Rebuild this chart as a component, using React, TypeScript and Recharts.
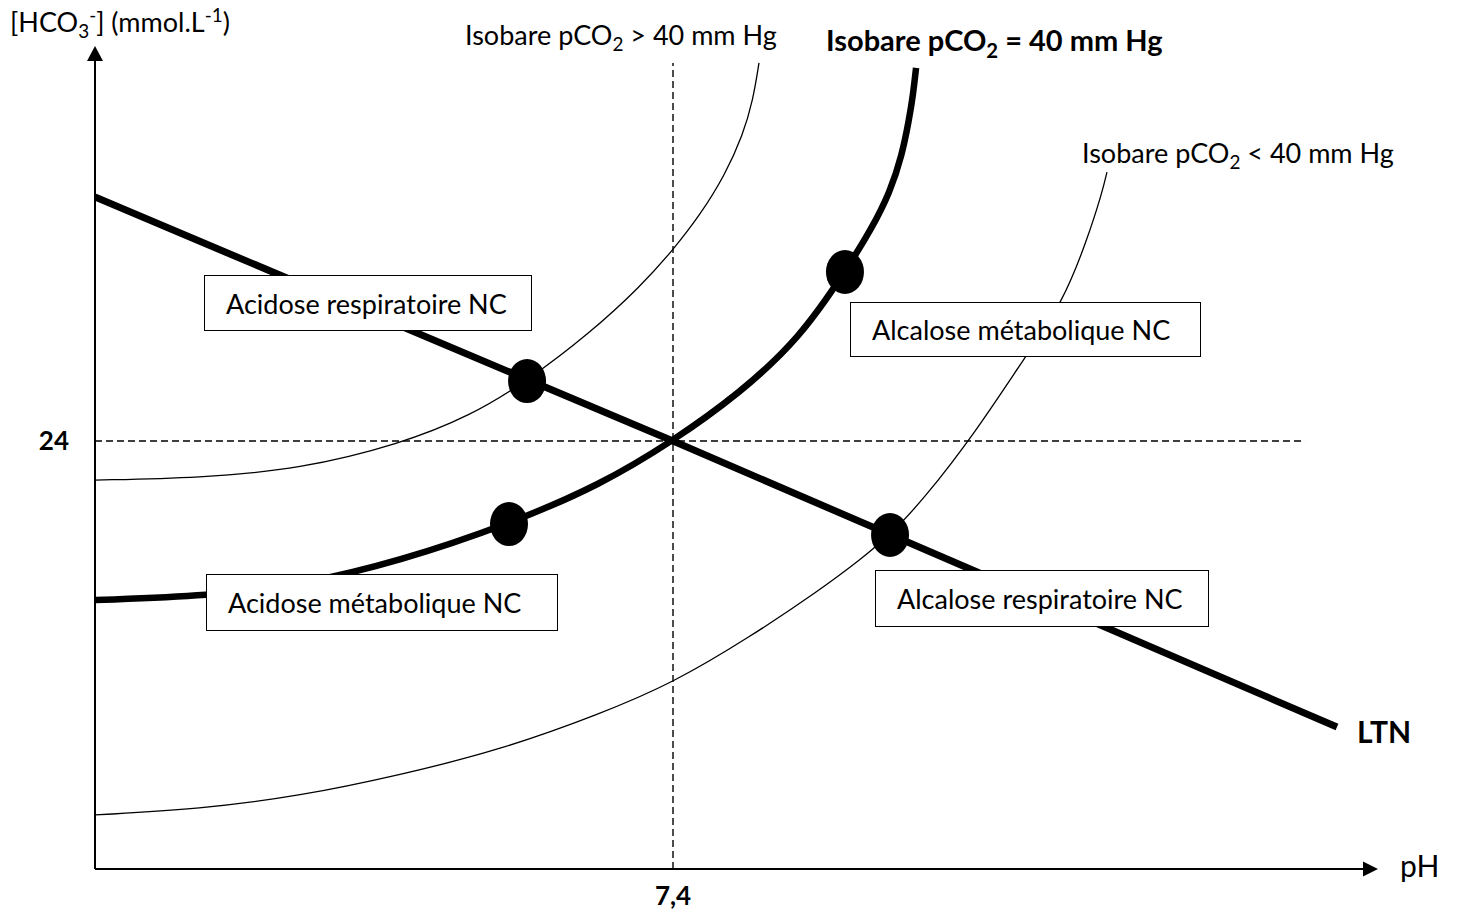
import React from 'react';
import { ComposedChart, Line, Scatter, XAxis, YAxis, ReferenceLine, ReferenceDot } from 'recharts';

// pH / [HCO3-] readings for each curve
const LTN_PH = [7.0, 7.4, 7.8595];
const LTN_HCO3 = [37.68, 24.0, 7.96];

const ISO_EQ_PH = [7.0, 7.0796, 7.1419, 7.2111, 7.2865, 7.3495, 7.4, 7.4464, 7.4879, 7.519, 7.5377, 7.5502, 7.5585, 7.5633, 7.5661, 7.5682];
const ISO_EQ_HCO3 = [15.08, 15.31, 15.92, 17.27, 19.34, 21.53, 24.0, 26.69, 29.78, 33.48, 35.94, 37.96, 40.04, 42.0, 43.4, 44.92];

const ISO_HIGH_PH = [7.0, 7.0727, 7.1419, 7.2111, 7.2595, 7.299, 7.3426, 7.3772, 7.4, 7.4187, 7.436, 7.4484, 7.4554, 7.4595];
const ISO_HIGH_HCO3 = [21.81, 21.93, 22.43, 23.83, 25.4, 27.36, 30.06, 32.64, 34.71, 36.67, 38.92, 41.16, 43.12, 45.2];

const ISO_LOW_PH = [7.0, 7.0727, 7.1419, 7.2111, 7.2803, 7.3495, 7.4, 7.4533, 7.5017, 7.5294, 7.5502, 7.573, 7.609, 7.6436, 7.6699, 7.6865, 7.6969, 7.7003];
const ISO_LOW_HCO3 = [3.03, 3.36, 4.09, 5.27, 6.67, 8.69, 10.43, 13.01, 15.65, 17.33, 18.73, 20.69, 24.45, 28.71, 31.79, 35.27, 37.91, 39.08];

const POINT_PH = [7.299, 7.519, 7.2865, 7.5502];
const POINT_HCO3 = [27.36, 33.48, 19.34, 18.73];

const PH_DOMAIN = [7.0, 7.8775];
const HCO3_DOMAIN = [0, 45.31];
const REF_PH = 7.4;
const REF_HCO3 = 24;

const zip = (xs: number[], ys: number[]) => xs.map((ph, i) => ({ ph, hco3: ys[i] }));

const FONT = 'Lato, "Open Sans", sans-serif';

const Ellipse = (props: any) => <ellipse cx={props.cx} cy={props.cy} rx={19} ry={22} fill="#000" />;

const ArrowUp = (props: any) => (
  <polygon points={`${props.cx},${props.cy - 15} ${props.cx - 8},${props.cy} ${props.cx + 8},${props.cy}`} fill="#000" />
);
const ArrowRight = (props: any) => (
  <polygon points={`${props.cx + 15},${props.cy} ${props.cx},${props.cy - 7.5} ${props.cx},${props.cy + 7.5}`} fill="#000" />
);

const boxStyle = (left: number, top: number, width: number, height: number): React.CSSProperties => ({
  position: 'absolute',
  left,
  top,
  width,
  height,
  boxSizing: 'border-box',
  border: '1.5px solid #000',
  background: '#fff',
  display: 'flex',
  alignItems: 'center',
  paddingLeft: 21,
  fontSize: 27,
  whiteSpace: 'nowrap',
});

const textStyle = (left: number, top: number, size: number, bold = false): React.CSSProperties => ({
  position: 'absolute',
  left,
  top,
  fontSize: size,
  fontWeight: bold ? 700 : 400,
  whiteSpace: 'nowrap',
  lineHeight: 'normal',
});

const sub = { fontSize: '0.7em' };

export default function App() {
  const thin = { stroke: '#000', strokeWidth: 1.3 };
  const thick = { stroke: '#000', strokeWidth: 6.5 };

  return (
    <div style={{ position: 'absolute', left: 0, top: 0, width: 1460, height: 914, background: '#fff', fontFamily: FONT, color: '#000' }}>
      <ComposedChart width={1460} height={914} margin={{ top: 61, right: 97, bottom: 0, left: 0 }}>
        <XAxis
          type="number"
          dataKey="ph"
          domain={PH_DOMAIN}
          allowDataOverflow
          height={45}
          ticks={[REF_PH]}
          tickFormatter={() => '7,4'}
          tickLine={false}
          tickSize={0}
          tickMargin={18}
          axisLine={{ stroke: '#000', strokeWidth: 2 }}
          tick={{ fill: '#000', fontSize: 26, fontWeight: 700, fontFamily: FONT }}
        />
        <YAxis
          type="number"
          dataKey="hco3"
          domain={HCO3_DOMAIN}
          allowDataOverflow
          width={95}
          ticks={[REF_HCO3]}
          tickLine={false}
          tickSize={0}
          tickMargin={26}
          axisLine={{ stroke: '#000', strokeWidth: 2 }}
          tick={{ fill: '#000', fontSize: 26, fontWeight: 700, fontFamily: FONT }}
        />
        <ReferenceLine segment={[{ x: REF_PH, y: 0 }, { x: REF_PH, y: 45.2 }]} stroke="#000" strokeWidth={1.4} strokeDasharray="7 4" />
        <ReferenceLine segment={[{ x: PH_DOMAIN[0], y: REF_HCO3 }, { x: 7.8374, y: REF_HCO3 }]} stroke="#000" strokeWidth={1.4} strokeDasharray="7 4" />
        <Line data={zip(ISO_HIGH_PH, ISO_HIGH_HCO3)} dataKey="hco3" type="basis" dot={false} activeDot={false} isAnimationActive={false} {...thin} />
        <Line data={zip(ISO_LOW_PH, ISO_LOW_HCO3)} dataKey="hco3" type="basis" dot={false} activeDot={false} isAnimationActive={false} {...thin} />
        <Line data={zip(ISO_EQ_PH, ISO_EQ_HCO3)} dataKey="hco3" type="basis" dot={false} activeDot={false} isAnimationActive={false} {...thick} />
        <Line data={zip(LTN_PH, LTN_HCO3)} dataKey="hco3" type="linear" dot={false} activeDot={false} isAnimationActive={false} {...thick} strokeWidth={7} />
        <Scatter data={zip(POINT_PH, POINT_HCO3)} dataKey="hco3" shape={Ellipse} isAnimationActive={false} />
        <ReferenceDot x={PH_DOMAIN[0]} y={HCO3_DOMAIN[1]} ifOverflow="visible" shape={ArrowUp} />
        <ReferenceDot x={PH_DOMAIN[1]} y={HCO3_DOMAIN[0]} ifOverflow="visible" shape={ArrowRight} />
      </ComposedChart>

      <div style={textStyle(10, 3, 27)}>
        [HCO<sub style={sub}>3</sub><sup style={sub}>-</sup>] (mmol.L<sup style={sub}>-1</sup>)
      </div>
      <div style={textStyle(465, 18, 27)}>
        Isobare pCO<sub style={sub}>2</sub> &gt; 40 mm Hg
      </div>
      <div style={textStyle(826, 22, 29, true)}>
        Isobare pCO<sub style={sub}>2</sub> = 40 mm Hg
      </div>
      <div style={textStyle(1082, 136, 27)}>
        Isobare pCO<sub style={sub}>2</sub> &lt; 40 mm Hg
      </div>
      <div style={textStyle(1357, 713, 30, true)}>LTN</div>
      <div style={textStyle(1400, 847, 30)}>pH</div>

      <div style={boxStyle(204, 275, 328, 56)}>Acidose respiratoire NC</div>
      <div style={boxStyle(850, 302, 351, 55)}>Alcalose métabolique NC</div>
      <div style={boxStyle(206, 574, 352, 57)}>Acidose métabolique NC</div>
      <div style={boxStyle(875, 570, 334, 57)}>Alcalose respiratoire NC</div>
    </div>
  );
}
